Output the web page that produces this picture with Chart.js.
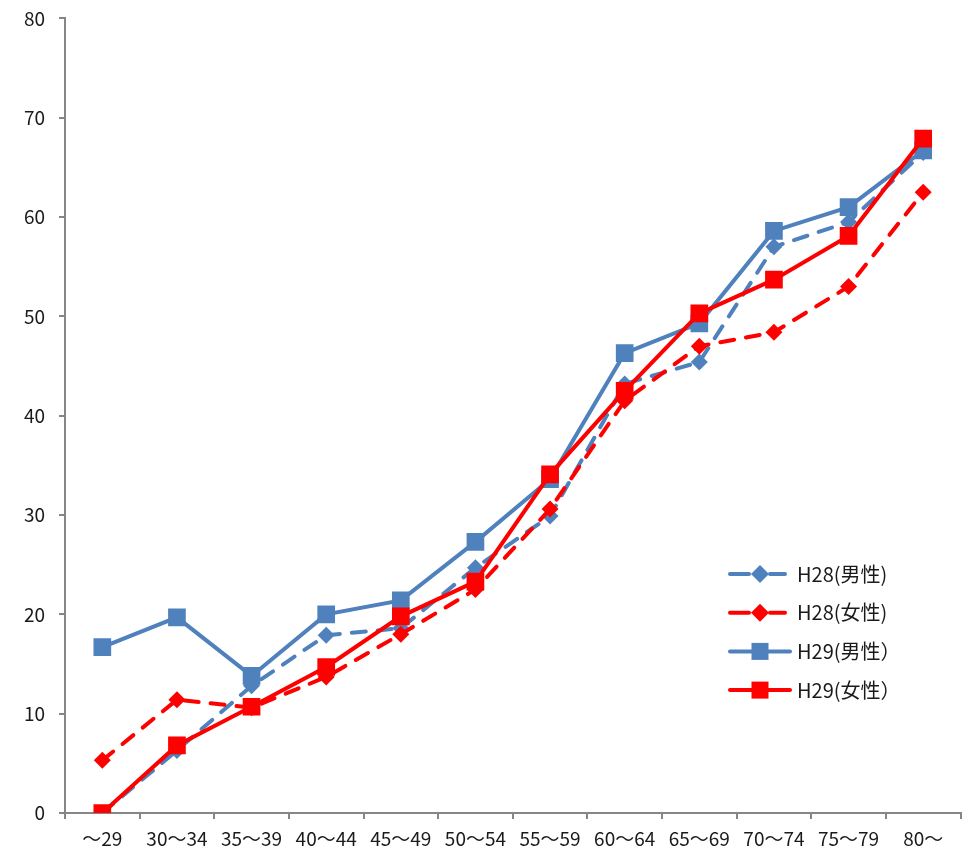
<!DOCTYPE html>
<html>
<head>
<meta charset="utf-8">
<script src="https://cdn.jsdelivr.net/npm/chart.js@4/dist/chart.umd.min.js"></script>
<style>
  body { margin: 0; background: #fff; overflow: hidden; }
  #wrap { width: 968px; height: 857px; overflow: hidden; position: relative; }
  #ageChart { position: absolute; left: 0; top: -7px; }
</style>
</head>
<body>
<div id="wrap"><canvas id="ageChart" width="973" height="864"></canvas></div>
<script>
const ageGroups = ['～29', '30～34', '35～39', '40～44', '45～49', '50～54', '55～59', '60～64', '65～69', '70～74', '75～79', '80～'];
const h28Male = [0, 6.3, 12.8, 17.9, 18.6, 24.7, 29.9, 43.2, 45.4, 57.0, 59.5, 66.5];
const h28Female = [5.3, 11.4, 10.6, 13.7, 18.0, 22.5, 30.6, 41.5, 47.0, 48.4, 53.0, 62.5];
const h29Male = [16.7, 19.7, 13.8, 20.0, 21.4, 27.3, 33.6, 46.3, 49.3, 58.6, 61.0, 66.7];
const h29Female = [0, 6.8, 10.7, 14.7, 19.8, 23.3, 34.1, 42.5, 50.3, 53.7, 58.1, 67.9];
const yTicks = [0, 10, 20, 30, 40, 50, 60, 70, 80];

const BLUE = '#4f81bd';
const RED = '#ff0000';
const FONT = '"Noto Sans CJK JP", "Noto Sans", sans-serif';

// legend drawn inside the plot area, lower right (canvas is shifted up 7px)
const insideLegend = {
    id: 'insideLegend',
    afterDraw(chart) {
        const ctx = chart.ctx;
        const x0 = 730, textX = 797;
        let y = 574 + 7;
        ctx.save();
        chart.data.datasets.forEach(ds => {
            const isRect = ds.pointStyle === 'rect';
            ctx.strokeStyle = ds.borderColor;
            ctx.lineWidth = 4;
            ctx.lineCap = 'round';
            ctx.setLineDash([]);
            ctx.beginPath();
            if (isRect) {
                ctx.moveTo(x0, y);
                ctx.lineTo(790, y);
            } else {
                ctx.moveTo(x0, y);
                ctx.lineTo(749, y);
                ctx.moveTo(770, y);
                ctx.lineTo(785, y);
            }
            ctx.stroke();
            ctx.fillStyle = ds.borderColor;
            if (isRect) {
                ctx.fillRect(760 - 8.5, y - 8.5, 17, 17);
            } else {
                ctx.beginPath();
                ctx.moveTo(760, y - 9);
                ctx.lineTo(769, y);
                ctx.lineTo(760, y + 9);
                ctx.lineTo(751, y);
                ctx.closePath();
                ctx.fill();
            }
            ctx.fillStyle = '#1a1a1a';
            ctx.font = '20px ' + FONT;
            ctx.textBaseline = 'middle';
            ctx.textAlign = 'left';
            ctx.fillText(ds.label, textX, y);
            y += 38.7;
        });
        ctx.restore();
    }
};

const ctx = document.getElementById('ageChart').getContext('2d');
new Chart(ctx, {
    type: 'line',
    data: {
        labels: ageGroups,
        datasets: [{
            label: 'H28(男性)',
            data: h28Male,
            borderColor: BLUE,
            backgroundColor: BLUE,
            borderWidth: 4,
            borderDash: [14, 12],
            borderCapStyle: 'round',
            pointStyle: 'rectRot',
            pointRadius: 8.5,
            pointBorderWidth: 0,
            order: 4
        }, {
            label: 'H28(女性)',
            data: h28Female,
            borderColor: RED,
            backgroundColor: RED,
            borderWidth: 4,
            borderDash: [14, 12],
            borderCapStyle: 'round',
            pointStyle: 'rectRot',
            pointRadius: 8.5,
            pointBorderWidth: 0,
            order: 3
        }, {
            label: 'H29(男性）',
            data: h29Male,
            borderColor: BLUE,
            backgroundColor: BLUE,
            borderWidth: 4,
            pointStyle: 'rect',
            pointRadius: 12.5,
            pointBorderWidth: 0,
            order: 2
        }, {
            label: 'H29(女性）',
            data: h29Female,
            borderColor: RED,
            backgroundColor: RED,
            borderWidth: 4,
            pointStyle: 'rect',
            pointRadius: 12.5,
            pointBorderWidth: 0,
            order: 1
        }]
    },
    options: {
        responsive: false,
        animation: false,
        layout: {
            padding: { top: 11, right: 3, left: 0, bottom: 0 }
        },
        plugins: {
            legend: { display: false },
            tooltip: { enabled: false }
        },
        scales: {
            x: {
                offset: true,
                afterFit(scale) { scale.height = 44; },
                border: { color: '#868686', width: 2 },
                grid: {
                    offset: true,
                    drawOnChartArea: false,
                    drawTicks: true,
                    tickLength: 6,
                    color: '#868686',
                    lineWidth: 2
                },
                ticks: {
                    autoSkip: false,
                    maxRotation: 0,
                    padding: 8,
                    color: '#1a1a1a',
                    font: { family: FONT, size: 19 }
                }
            },
            y: {
                min: 0,
                max: 80,
                afterFit(scale) { scale.width = 65; },
                afterBuildTicks(scale) {
                    scale.ticks = yTicks.map(v => ({ value: v }));
                },
                border: { color: '#868686', width: 2 },
                grid: {
                    drawOnChartArea: false,
                    drawTicks: true,
                    tickLength: 6,
                    color: '#868686',
                    lineWidth: 2
                },
                ticks: {
                    padding: 14,
                    color: '#1a1a1a',
                    font: { family: FONT, size: 19 }
                }
            }
        }
    },
    plugins: [insideLegend]
});
</script>
</body>
</html>
